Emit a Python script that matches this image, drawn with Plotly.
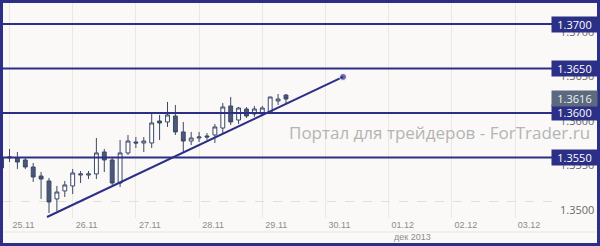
import pandas as pd
import plotly.graph_objects as go

# ---- data (EUR/USD H3 candles) ----
candle_start = "2013-11-24 21:00"
candle_step_hours = 3
opens = [1.35382, 1.35494, 1.35494, 1.35472, 1.35393, 1.35292, 1.35236, 1.35034, 1.35124, 1.35180,
         1.35303, 1.35303, 1.35315, 1.35562, 1.35472, 1.35213, 1.35551, 1.35674, 1.35663, 1.35663,
         1.35910, 1.35899, 1.35966, 1.35787, 1.35685, 1.35719, 1.35742, 1.35753, 1.35831, 1.36079,
         1.35921, 1.36045, 1.35989, 1.35989, 1.36000, 1.36135, 1.36202]
highs = [1.35528, 1.35596, 1.35562, 1.35494, 1.35438, 1.35337, 1.35270, 1.35180, 1.35236, 1.35371,
         1.35348, 1.35348, 1.35719, 1.35596, 1.35506, 1.35697, 1.35753, 1.35730, 1.35730, 1.36000,
         1.35978, 1.36124, 1.36090, 1.35899, 1.35787, 1.35787, 1.35775, 1.35876, 1.36112, 1.36180,
         1.36067, 1.36067, 1.36079, 1.36079, 1.36180, 1.36213, 1.36213]
lows = [1.35360, 1.35449, 1.35371, 1.35371, 1.35225, 1.35034, 1.34876, 1.34899, 1.35056, 1.35090,
        1.35213, 1.35258, 1.35258, 1.35337, 1.35191, 1.35169, 1.35528, 1.35607, 1.35562, 1.35607,
        1.35697, 1.35843, 1.35753, 1.35562, 1.35640, 1.35674, 1.35697, 1.35663, 1.35775, 1.35865,
        1.35876, 1.35944, 1.35955, 1.35966, 1.35989, 1.36090, 1.36112]
closes = [1.35494, 1.35506, 1.35449, 1.35393, 1.35281, 1.35258, 1.35000, 1.35112, 1.35191, 1.35326,
          1.35315, 1.35315, 1.35551, 1.35472, 1.35213, 1.35551, 1.35685, 1.35663, 1.35685, 1.35888,
          1.35888, 1.35978, 1.35787, 1.35685, 1.35719, 1.35730, 1.35730, 1.35843, 1.36067, 1.35899,
          1.36056, 1.35966, 1.36045, 1.36056, 1.36180, 1.36157, 1.36157]

levels = [1.3700, 1.3650, 1.3600, 1.3550]
level_labels = ["1.3700", "1.3650", "1.3600", "1.3550"]
last_price = 1.3616
last_label = "1.3616"

trend_times = ["2013-11-25 14:15", "2013-11-30 06:40"]
trend_prices = [1.34831, 1.36405]

day_ticks = ["2013-11-25", "2013-11-26", "2013-11-27", "2013-11-28", "2013-11-29",
             "2013-11-30", "2013-12-01", "2013-12-02", "2013-12-03"]
day_labels = ["25.11", "26.11", "27.11", "28.11", "29.11", "30.11", "01.12", "02.12", "03.12"]
month_label = "дек 2013"
price_ticks = [1.3500, 1.3550, 1.3600, 1.3650, 1.3700]
price_tick_labels = ["1.3500", "1.3550", "1.3600", "1.3650", "1.3700"]
watermark = "Портал для трейдеров - ForTrader.ru"

times = pd.date_range(candle_start, periods=len(opens), freq=f"{candle_step_hours}h")

NAVY = "#2c2f86"
CANDLE_LINE = "#3b4868"

fig = go.Figure()
fig.add_trace(go.Candlestick(
    x=times, open=opens, high=highs, low=lows, close=closes,
    increasing=dict(fillcolor="#ffffff", line=dict(color=CANDLE_LINE, width=1)),
    decreasing=dict(fillcolor="#4b5979", line=dict(color=CANDLE_LINE, width=1)),
    showlegend=False, hoverinfo="skip",
))

fig.add_trace(go.Scatter(
    x=trend_times, y=trend_prices, mode="lines+markers",
    line=dict(color=NAVY, width=2),
    marker=dict(size=[0, 7], color=NAVY),
    showlegend=False, hoverinfo="skip",
))

# plot area in pixels: x 3..553, y 3..218
W, H = 600, 246
L, R, T, B = 3, 47, 3, 28
pw, ph = W - L - R, H - T - B


def px_x(px):
    return (px - L) / pw


def px_y(py):
    return (H - B - py) / ph


shapes = []
for lv in levels:
    shapes.append(dict(type="line", xref="paper", yref="y", x0=0, x1=px_x(552),
                       y0=lv, y1=lv, line=dict(color=NAVY, width=2), layer="above"))
# faint separator under date labels
shapes.append(dict(type="line", xref="paper", yref="paper", x0=px_x(3), x1=px_x(597),
                   y0=px_y(232), y1=px_y(232), line=dict(color="#e7e4dd", width=1)))
# outer frame
shapes.append(dict(type="rect", xref="paper", yref="paper",
                   x0=px_x(1.5), x1=px_x(598.5), y0=px_y(244.5), y1=px_y(1.5),
                   line=dict(color=NAVY, width=3), fillcolor="rgba(0,0,0,0)", layer="above"))

annotations = []
for lv, lab in zip(levels, level_labels):
    annotations.append(dict(xref="paper", yref="y", x=px_x(551), y=lv, xanchor="left",
                            yanchor="middle", text=lab, showarrow=False,
                            font=dict(family="Open Sans", size=11, color="#ffffff"),
                            bgcolor=NAVY, width=43, height=13, borderpad=1, align="center"))
annotations.append(dict(xref="paper", yref="y", x=px_x(551), y=last_price, xanchor="left",
                        yanchor="middle", text=last_label, showarrow=False,
                        font=dict(family="Open Sans", size=11, color="#f2f2f2"),
                        bgcolor="#5c6a7f", width=43, height=13, borderpad=1, align="center"))
annotations.append(dict(xref="paper", yref="paper", x=px_x(592), y=px_y(132),
                        xanchor="right", yanchor="middle", text=watermark, showarrow=False,
                        font=dict(family="Open Sans", size=17, color="#b4b4b4")))
annotations.append(dict(xref="x", yref="paper", x=day_ticks[6], y=px_y(237),
                        xanchor="left", yanchor="middle", xshift=3, text=month_label,
                        showarrow=False,
                        font=dict(family="Liberation Sans", size=9, color="#8c8c8c")))

fig.update_layout(
    width=W, height=H,
    margin=dict(l=L, r=R, t=T, b=B, pad=0),
    paper_bgcolor="#faf9f8",
    plot_bgcolor="#faf9f8",
    shapes=shapes,
    annotations=annotations,
    showlegend=False,
)
fig.update_xaxes(
    type="date",
    range=["2013-11-24 21:32", "2013-12-03 14:24"],
    rangeslider=dict(visible=False),
    tickvals=day_ticks, ticktext=day_labels,
    ticklabelshift=14,
    showgrid=True, gridcolor="#ebe8e2", gridwidth=1,
    zeroline=False, showline=False, ticks="",
    tickfont=dict(family="Liberation Sans", size=9, color="#8c8c8c"),
)
fig.update_yaxes(
    side="right",
    range=[1.34820, 1.37236],
    tickvals=price_ticks, ticktext=price_tick_labels,
    ticklabelshift=8, ticklabelstandoff=6,
    showgrid=True, gridcolor="#e4dfd3", griddash="dash", gridwidth=1,
    zeroline=False, showline=False, ticks="",
    tickfont=dict(family="Open Sans", size=11, color="#6a6a6a"),
)

fig.write_html("out.html")
